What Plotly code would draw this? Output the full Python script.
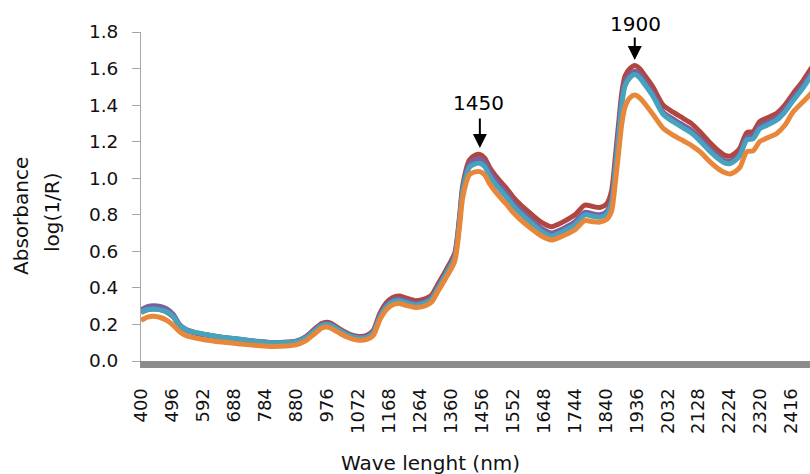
import plotly.graph_objects as go

# Wavelength grid (nm)
wavelength = [400, 420, 440, 460, 480, 500, 520, 540, 570, 600, 650, 700, 750, 800, 850, 880,
              910, 940, 960, 975, 990, 1010, 1040, 1070, 1100, 1120, 1140, 1160, 1180, 1200,
              1220, 1250, 1280, 1300, 1320, 1346, 1372, 1387, 1397, 1418, 1435, 1450, 1465,
              1480, 1500, 1530, 1552, 1573, 1605, 1640, 1672, 1695, 1718, 1745, 1775, 1800,
              1822, 1843, 1858, 1870, 1880, 1890, 1900, 1915, 1930, 1945, 1960, 1986, 2018,
              2050, 2080, 2105, 2132, 2160, 2190, 2210, 2225, 2240, 2256, 2277, 2297, 2317,
              2340, 2370, 2395, 2421, 2450, 2480]

red = [0.265, 0.280, 0.285, 0.282, 0.268, 0.240, 0.192, 0.168, 0.152, 0.142, 0.128, 0.118, 0.108, 0.100, 0.102, 0.108,
       0.132, 0.178, 0.205, 0.212, 0.205, 0.182, 0.152, 0.135, 0.140, 0.168, 0.260, 0.318, 0.348, 0.355,
       0.345, 0.330, 0.340, 0.360, 0.420, 0.500, 0.590, 0.790, 0.960, 1.100, 1.125, 1.130, 1.110,
       1.060, 1.010, 0.950, 0.900, 0.860, 0.810, 0.760, 0.735, 0.750, 0.771, 0.800, 0.853, 0.845,
       0.840, 0.860, 0.930, 1.120, 1.300, 1.470, 1.560, 1.600, 1.617, 1.600, 1.565, 1.500, 1.400,
       1.360, 1.328, 1.300, 1.254, 1.200, 1.150, 1.125, 1.120, 1.135, 1.165, 1.249, 1.255, 1.310,
       1.330, 1.355, 1.400, 1.464, 1.530, 1.610]

purple = [0.280, 0.298, 0.302, 0.298, 0.285, 0.255, 0.198, 0.172, 0.155, 0.145, 0.130, 0.120, 0.110, 0.101, 0.102, 0.107,
          0.128, 0.172, 0.198, 0.205, 0.198, 0.176, 0.146, 0.130, 0.134, 0.160, 0.248, 0.304, 0.333, 0.340,
          0.330, 0.316, 0.326, 0.346, 0.405, 0.485, 0.575, 0.772, 0.940, 1.078, 1.102, 1.106, 1.086,
          1.036, 0.985, 0.922, 0.870, 0.830, 0.778, 0.727, 0.700, 0.714, 0.734, 0.762, 0.813, 0.805,
          0.800, 0.818, 0.880, 1.070, 1.255, 1.430, 1.525, 1.568, 1.585, 1.568, 1.532, 1.465, 1.362,
          1.322, 1.290, 1.263, 1.218, 1.166, 1.118, 1.095, 1.092, 1.106, 1.136, 1.225, 1.232, 1.285,
          1.305, 1.332, 1.377, 1.440, 1.506, 1.585]

teal = [0.268, 0.282, 0.285, 0.280, 0.270, 0.242, 0.195, 0.170, 0.155, 0.145, 0.130, 0.120, 0.108, 0.100, 0.101, 0.106,
        0.126, 0.168, 0.194, 0.200, 0.194, 0.172, 0.142, 0.127, 0.130, 0.155, 0.240, 0.296, 0.324, 0.330,
        0.320, 0.307, 0.318, 0.338, 0.398, 0.478, 0.566, 0.762, 0.928, 1.060, 1.078, 1.082, 1.063,
        1.013, 0.963, 0.902, 0.852, 0.812, 0.762, 0.711, 0.684, 0.698, 0.718, 0.746, 0.800, 0.792,
        0.787, 0.805, 0.865, 1.050, 1.230, 1.405, 1.505, 1.550, 1.567, 1.550, 1.515, 1.450, 1.350,
        1.308, 1.276, 1.248, 1.204, 1.152, 1.105, 1.082, 1.080, 1.095, 1.125, 1.209, 1.216, 1.270,
        1.290, 1.318, 1.362, 1.425, 1.490, 1.570]

orange = [0.222, 0.240, 0.245, 0.238, 0.222, 0.195, 0.160, 0.138, 0.125, 0.115, 0.104, 0.095, 0.086, 0.080, 0.082, 0.088,
          0.110, 0.152, 0.180, 0.186, 0.178, 0.158, 0.130, 0.115, 0.118, 0.140, 0.225, 0.280, 0.308, 0.315,
          0.305, 0.293, 0.302, 0.322, 0.380, 0.458, 0.545, 0.735, 0.895, 1.020, 1.035, 1.036, 1.018,
          0.970, 0.922, 0.862, 0.815, 0.778, 0.730, 0.685, 0.662, 0.675, 0.693, 0.718, 0.768, 0.762,
          0.760, 0.775, 0.820, 0.980, 1.140, 1.300, 1.390, 1.440, 1.455, 1.440, 1.410, 1.350, 1.273,
          1.235, 1.205, 1.180, 1.145, 1.095, 1.050, 1.030, 1.023, 1.035, 1.060, 1.145, 1.150, 1.200,
          1.220, 1.245, 1.290, 1.364, 1.415, 1.470]

x_tick_labels = [400, 496, 592, 688, 784, 880, 976, 1072, 1168, 1264, 1360, 1456, 1552, 1648,
                 1744, 1840, 1936, 2032, 2128, 2224, 2320, 2416]
y_tick_labels = [0.0, 0.2, 0.4, 0.6, 0.8, 1.0, 1.2, 1.4, 1.6, 1.8]

series = [("Sample 1", red, "#B0463F"),
          ("Sample 2", purple, "#7D5FA0"),
          ("Sample 3", teal, "#46A3BE"),
          ("Sample 4", orange, "#E8873A")]

FONT = "DejaVu Sans"

fig = go.Figure()
for name, vals, color in series:
    fig.add_trace(go.Scatter(
        x=wavelength, y=vals, mode="lines", name=name,
        line=dict(color=color, width=5, shape="spline", smoothing=0.7),
    ))

fig.update_layout(
    width=810, height=474,
    margin=dict(l=141, r=0, t=32, b=113),
    paper_bgcolor="white", plot_bgcolor="white",
    showlegend=False,
    font=dict(family=FONT, color="#111111", size=16),
)

fig.update_xaxes(
    range=[400, 2473],
    tickmode="array", tickvals=x_tick_labels, ticktext=[str(v) for v in x_tick_labels],
    tickangle=-90, tickfont=dict(family=FONT, size=18, color="#111111"),
    showgrid=False, zeroline=False,
    showline=True, linecolor="#8c8c8c", linewidth=7,
    ticks="", ticklabelstandoff=13,
)
fig.update_yaxes(
    range=[0, 1.8],
    tickmode="array", tickvals=y_tick_labels, ticktext=["%.1f" % v for v in y_tick_labels],
    tickfont=dict(family=FONT, size=18.5, color="#111111"),
    showgrid=False, zeroline=False,
    showline=True, linecolor="#a6a6a6", linewidth=1,
    ticks="outside", ticklen=8, tickcolor="#a6a6a6", tickwidth=1,
    ticklabelstandoff=10,
)

# Peak arrows
for xv, yv, ay in [(1450, 1.165, -31), (1930, 1.647, -24)]:
    fig.add_annotation(x=xv, y=yv, xref="x", yref="y", text="", showarrow=True,
                       ax=0, ay=ay, arrowhead=2, arrowsize=1.4, arrowwidth=2,
                       arrowcolor="black", standoff=0)

# Peak labels
for txt, px_x, px_y in [("1450", 478, 103), ("1900", 635, 24)]:
    fig.add_annotation(x=(px_x - 141) / 669, y=(361 - px_y) / 329, xref="paper", yref="paper",
                       text=txt, showarrow=False, xanchor="center", yanchor="middle",
                       font=dict(family=FONT, size=20, color="black"))

# Axis titles
fig.add_annotation(x=(430 - 141) / 669, y=(361 - 463) / 329, xref="paper", yref="paper",
                   text="Wave lenght (nm)", showarrow=False, xanchor="center", yanchor="middle",
                   font=dict(family=FONT, size=20, color="#111111"))
fig.add_annotation(x=(21 - 141) / 669, y=(361 - 216) / 329, xref="paper", yref="paper",
                   text="Absorbance", showarrow=False, textangle=-90,
                   xanchor="center", yanchor="middle",
                   font=dict(family=FONT, size=20, color="#111111"))
fig.add_annotation(x=(52 - 141) / 669, y=(361 - 213) / 329, xref="paper", yref="paper",
                   text="log(1/R)", showarrow=False, textangle=-90,
                   xanchor="center", yanchor="middle",
                   font=dict(family=FONT, size=20, color="#111111"))

fig.write_html("out.html")
